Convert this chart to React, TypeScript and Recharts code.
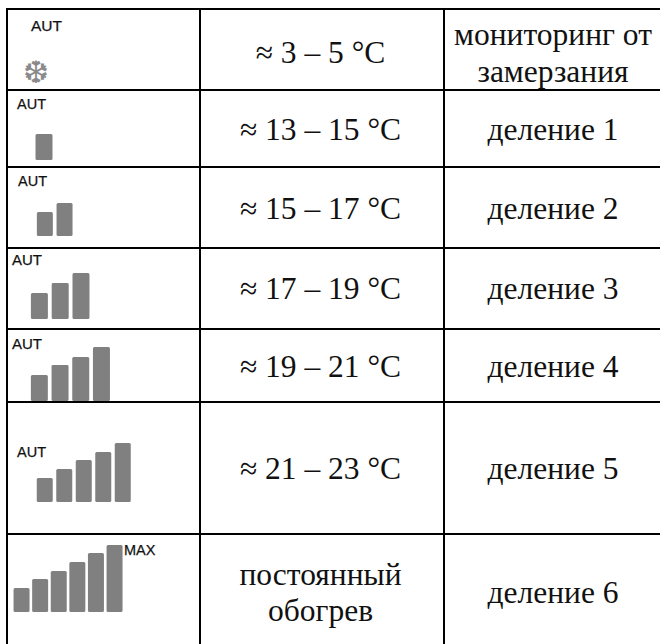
import { BarChart, Bar, XAxis, YAxis } from 'recharts';

// bar heights per table row (first row has only the snowflake)
const row2Levels = [26];
const row3Levels = [24, 33];
const row4Levels = [26, 36, 46];
const row5Levels = [26, 36, 44, 54];
const row6Levels = [24, 33, 42, 50, 59];
const row7Levels = [24, 33, 41, 50, 59, 67];

const tempLabels = ['≈ 3 – 5 °C', '≈ 13 – 15 °C', '≈ 15 – 17 °C', '≈ 17 – 19 °C', '≈ 19 – 21 °C', '≈ 21 – 23 °C', 'постоянный\nобогрев'];
const modeLabels = ['мониторинг от\nзамерзания', 'деление 1', 'деление 2', 'деление 3', 'деление 4', 'деление 5', 'деление 6'];
const iconLabels = ['AUT', 'AUT', 'AUT', 'AUT', 'AUT', 'AUT', 'MAX'];

// layout, px in page coords
const rowLines = [9, 90, 167, 247.5, 329, 401.5, 534];
const rowBottom = 644;
const textNudge = [2.5, 0, 0, -0.5, 0, 0, 2.5];
const labelPos = [[31, 17, 15.5], [17, 95, 14.5], [18, 172, 14.5], [12, 251, 15], [12, 335, 15], [17, 443, 14.5], [124, 541, 14.5]];
const charts = [
  { levels: row2Levels, left: 35, pitch: 20, bottom: 160, width: 17 },
  { levels: row3Levels, left: 36.5, pitch: 19.7, bottom: 235.5, width: 16 },
  { levels: row4Levels, left: 31, pitch: 20.8, bottom: 318.5, width: 17 },
  { levels: row5Levels, left: 31, pitch: 20.7, bottom: 401, width: 17 },
  { levels: row6Levels, left: 37, pitch: 19.5, bottom: 502, width: 16 },
  { levels: row7Levels, left: 14, pitch: 18.6, bottom: 611.5, width: 15.5 },
];
const MAX_H = 70;

function Icon({ levels, left, pitch, bottom, width }: any) {
  const data = levels.map((v: number, i: number) => ({ name: 'b' + i, level: v }));
  const gap = pitch - width;
  return (
    <div style={{ position: 'absolute', left: left - gap / 2, top: bottom - MAX_H }}>
      <BarChart width={pitch * levels.length} height={MAX_H} data={data} margin={{ top: 0, right: 0, bottom: 0, left: 0 }} barCategoryGap={gap / 2}>
        <XAxis dataKey="name" hide />
        <YAxis hide domain={[0, MAX_H]} />
        <Bar dataKey="level" fill="#808080" radius={1.5} isAnimationActive={false} />
      </BarChart>
    </div>
  );
}

function Cell({ text, left, width, top, height }: any) {
  return (
    <div style={{ position: 'absolute', left, width, top, height, paddingTop: 3, boxSizing: 'border-box', display: 'flex', alignItems: 'center', justifyContent: 'center', textAlign: 'center', whiteSpace: 'pre-line', fontFamily: '"Liberation Serif", serif', fontSize: 31.5, lineHeight: '36.5px', color: '#111' }}>
      {text}
    </div>
  );
}

export default function App() {
  return (
    <div style={{ position: 'fixed', left: 0, top: 0, width: 660, height: 644, background: '#fff', overflow: 'hidden' }}>
      {rowLines.map((y) => (
        <div key={y} style={{ position: 'absolute', left: 6, right: 0, top: y - 1, height: 2, background: '#000' }} />
      ))}
      {[7, 200, 444].map((x) => (
        <div key={x} style={{ position: 'absolute', left: x - 1, top: 8, bottom: 0, width: 2, background: '#000' }} />
      ))}
      {rowLines.map((y, i) => {
        const next = i + 1 < rowLines.length ? rowLines[i + 1] : rowBottom;
        return (
          <div key={y}>
            <Cell text={tempLabels[i]} left={199} width={243} top={y + textNudge[i]} height={next - y} />
            <Cell text={modeLabels[i]} left={444} width={218} top={y + textNudge[i]} height={next - y} />
          </div>
        );
      })}
      {iconLabels.map((t, i) => (
        <div key={i} style={{ position: 'absolute', left: labelPos[i][0], top: labelPos[i][1], fontFamily: '"Liberation Sans", sans-serif', fontSize: labelPos[i][2], lineHeight: '18px', color: '#111', WebkitTextStroke: '0.25px #111' }}>
          {t}
        </div>
      ))}
      <div style={{ position: 'absolute', left: 22, top: 57, width: 28, textAlign: 'center', fontFamily: '"DejaVu Sans", sans-serif', fontSize: 31, lineHeight: '30px', color: '#8a8a8a' }}>❆</div>
      {charts.map((c, i) => (
        <Icon key={i} {...c} />
      ))}
    </div>
  );
}
